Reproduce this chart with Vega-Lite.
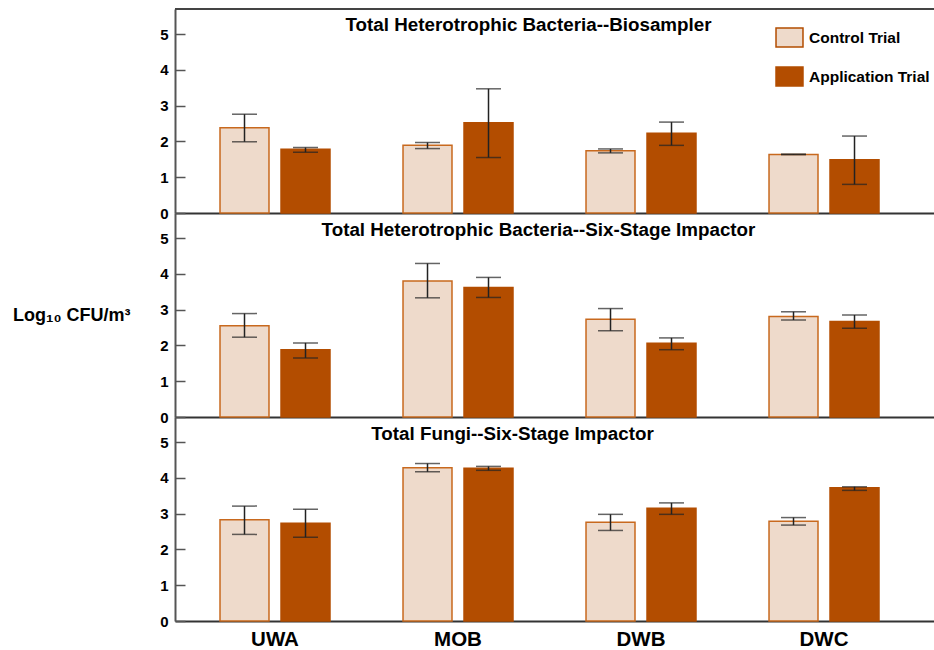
{
  "$schema": "https://vega.github.io/schema/vega-lite/v6.json",
  "padding": {"left": 12, "top": 8, "right": 0, "bottom": 0},
  "spacing": 0,
  "bounds": "flush",
  "config": {
    "font": "Liberation Sans",
    "view": {"stroke": null},
    "legend": {
      "orient": "none", "legendX": 604, "legendY": 18,
      "symbolType": "M-1.42,-1H1.42V1H-1.42Z", "symbolSize": 361,
      "symbolStrokeWidth": 1.5, "labelFontSize": 15.5, "labelFontWeight": "bold",
      "labelColor": "black", "labelOffset": 9, "rowPadding": 14, "padding": 0, "labelLimit": 200
    },
    "title": {"fontSize": 18.8, "fontWeight": "bold", "color": "black", "anchor": "middle", "frame": "group", "baseline": "alphabetic", "offset": -27}
  },
  "data": {"values": [
    {"panel": "P1", "site": "UWA", "trial": "Control Trial", "mean": 2.38, "lo": 1.99, "hi": 2.76},
    {"panel": "P1", "site": "UWA", "trial": "Application Trial", "mean": 1.78, "lo": 1.70, "hi": 1.83},
    {"panel": "P1", "site": "MOB", "trial": "Control Trial", "mean": 1.89, "lo": 1.80, "hi": 1.97},
    {"panel": "P1", "site": "MOB", "trial": "Application Trial", "mean": 2.52, "lo": 1.55, "hi": 3.47},
    {"panel": "P1", "site": "DWB", "trial": "Control Trial", "mean": 1.74, "lo": 1.68, "hi": 1.79},
    {"panel": "P1", "site": "DWB", "trial": "Application Trial", "mean": 2.23, "lo": 1.89, "hi": 2.54},
    {"panel": "P1", "site": "DWC", "trial": "Control Trial", "mean": 1.635, "lo": 1.63, "hi": 1.645},
    {"panel": "P1", "site": "DWC", "trial": "Application Trial", "mean": 1.49, "lo": 0.80, "hi": 2.15},
    {"panel": "P2", "site": "UWA", "trial": "Control Trial", "mean": 2.55, "lo": 2.23, "hi": 2.89},
    {"panel": "P2", "site": "UWA", "trial": "Application Trial", "mean": 1.88, "lo": 1.65, "hi": 2.07},
    {"panel": "P2", "site": "MOB", "trial": "Control Trial", "mean": 3.80, "lo": 3.33, "hi": 4.29},
    {"panel": "P2", "site": "MOB", "trial": "Application Trial", "mean": 3.62, "lo": 3.34, "hi": 3.90},
    {"panel": "P2", "site": "DWB", "trial": "Control Trial", "mean": 2.73, "lo": 2.41, "hi": 3.03},
    {"panel": "P2", "site": "DWB", "trial": "Application Trial", "mean": 2.06, "lo": 1.88, "hi": 2.21},
    {"panel": "P2", "site": "DWC", "trial": "Control Trial", "mean": 2.81, "lo": 2.71, "hi": 2.94},
    {"panel": "P2", "site": "DWC", "trial": "Application Trial", "mean": 2.67, "lo": 2.48, "hi": 2.85},
    {"panel": "P3", "site": "UWA", "trial": "Control Trial", "mean": 2.83, "lo": 2.42, "hi": 3.21},
    {"panel": "P3", "site": "UWA", "trial": "Application Trial", "mean": 2.73, "lo": 2.34, "hi": 3.12},
    {"panel": "P3", "site": "MOB", "trial": "Control Trial", "mean": 4.28, "lo": 4.17, "hi": 4.40},
    {"panel": "P3", "site": "MOB", "trial": "Application Trial", "mean": 4.27, "lo": 4.21, "hi": 4.32},
    {"panel": "P3", "site": "DWB", "trial": "Control Trial", "mean": 2.76, "lo": 2.53, "hi": 2.98},
    {"panel": "P3", "site": "DWB", "trial": "Application Trial", "mean": 3.15, "lo": 2.98, "hi": 3.30},
    {"panel": "P3", "site": "DWC", "trial": "Control Trial", "mean": 2.79, "lo": 2.68, "hi": 2.89},
    {"panel": "P3", "site": "DWC", "trial": "Application Trial", "mean": 3.72, "lo": 3.65, "hi": 3.75}
  ]},
  "vconcat": [
    {
      "width": 759, "height": 204,
      "title": {"text": "Total Heterotrophic Bacteria--Biosampler", "dx": -26},
      "transform": [{"filter": "datum.panel === 'P1'"}],
      "layer": [
        {"mark": {"type": "bar", "strokeWidth": 1.5},
         "encoding": {
           "x": {"field": "site", "type": "nominal", "sort": ["UWA", "MOB", "DWB", "DWC"], "scale": {"paddingInner": 0, "paddingOuter": 0.07375, "align": 0.315}, "axis": {"labels": false, "ticks": false, "title": null, "domainColor": "#333", "domainWidth": 2}},
           "xOffset": {"field": "trial", "type": "nominal", "sort": ["Control Trial", "Application Trial"], "scale": {"paddingInner": 0.197, "paddingOuter": 0.5985}},
           "y": {"field": "mean", "type": "quantitative", "scale": {"domain": [0, 5.7], "nice": false},
                 "axis": {"title": null, "grid": false, "values": [0, 0.5, 1, 1.5, 2, 2.5, 3, 3.5, 4, 4.5, 5], "labelExpr": "datum.value % 1 === 0 ? datum.label : ''", "tickSize": {"condition": {"test": "datum.value % 1 === 0", "value": -10}, "value": -7}, "tickColor": "#555", "tickWidth": 1.5, "domainColor": "#555", "domainWidth": 2, "labelFontSize": 15, "labelFontWeight": "bold", "labelColor": "black", "labelPadding": 17}},
           "fill": {"field": "trial", "type": "nominal", "sort": ["Control Trial", "Application Trial"], "scale": {"range": ["#EEDACB", "#B34D00"]},
                    "legend": {"title": null, "encode": {"symbols": {"update": {"stroke": {"signal": "datum.value === 'Control Trial' ? '#C8691E' : '#B34D00'"}}}}}},
           "stroke": {"condition": {"test": "datum.trial === 'Control Trial'", "value": "#C8691E"}, "value": "#B34D00"}
         }},
        {"mark": {"type": "rule", "color": "#444", "strokeWidth": 2}, "encoding": {"y": {"datum": 5.7, "type": "quantitative"}}},
        {"mark": {"type": "rule", "color": "#222", "strokeWidth": 1.5},
         "encoding": {"x": {"field": "site", "type": "nominal", "sort": ["UWA", "MOB", "DWB", "DWC"]}, "xOffset": {"field": "trial", "type": "nominal", "sort": ["Control Trial", "Application Trial"]}, "y": {"field": "lo", "type": "quantitative"}, "y2": {"field": "hi"}}},
        {"mark": {"type": "tick", "orient": "horizontal", "size": 25, "thickness": 1.5, "color": "#222"},
         "encoding": {"x": {"field": "site", "type": "nominal", "sort": ["UWA", "MOB", "DWB", "DWC"]}, "xOffset": {"field": "trial", "type": "nominal", "sort": ["Control Trial", "Application Trial"]}, "y": {"field": "lo", "type": "quantitative"}}},
        {"mark": {"type": "tick", "orient": "horizontal", "size": 25, "thickness": 1.5, "color": "#222"},
         "encoding": {"x": {"field": "site", "type": "nominal", "sort": ["UWA", "MOB", "DWB", "DWC"]}, "xOffset": {"field": "trial", "type": "nominal", "sort": ["Control Trial", "Application Trial"]}, "y": {"field": "hi", "type": "quantitative"}}}
      ]
    },
    {
      "width": 759, "height": 204,
      "title": {"text": "Total Heterotrophic Bacteria--Six-Stage Impactor", "dx": -16},
      "transform": [{"filter": "datum.panel === 'P2'"}],
      "layer": [
        {"mark": {"type": "bar", "strokeWidth": 1.5},
         "encoding": {
           "x": {"field": "site", "type": "nominal", "sort": ["UWA", "MOB", "DWB", "DWC"], "scale": {"paddingInner": 0, "paddingOuter": 0.07375, "align": 0.315}, "axis": {"labels": false, "ticks": false, "title": null, "domainColor": "#333", "domainWidth": 2}},
           "xOffset": {"field": "trial", "type": "nominal", "sort": ["Control Trial", "Application Trial"], "scale": {"paddingInner": 0.197, "paddingOuter": 0.5985}},
           "y": {"field": "mean", "type": "quantitative", "scale": {"domain": [0, 5.7], "nice": false},
                 "axis": {"title": "Log₁₀ CFU/m³", "titleAngle": 0, "titleAlign": "right", "titleBaseline": "middle", "titleX": -45, "titleY": 102, "titleFontSize": 18, "titleFontWeight": "bold", "titleColor": "black", "grid": false, "values": [0, 0.5, 1, 1.5, 2, 2.5, 3, 3.5, 4, 4.5, 5], "labelExpr": "datum.value % 1 === 0 ? datum.label : ''", "tickSize": {"condition": {"test": "datum.value % 1 === 0", "value": -10}, "value": -7}, "tickColor": "#555", "tickWidth": 1.5, "domainColor": "#555", "domainWidth": 2, "labelFontSize": 15, "labelFontWeight": "bold", "labelColor": "black", "labelPadding": 17}},
           "fill": {"field": "trial", "type": "nominal", "sort": ["Control Trial", "Application Trial"], "scale": {"range": ["#EEDACB", "#B34D00"]},
                    "legend": {"title": null, "encode": {"symbols": {"update": {"stroke": {"signal": "datum.value === 'Control Trial' ? '#C8691E' : '#B34D00'"}}}}}},
           "stroke": {"condition": {"test": "datum.trial === 'Control Trial'", "value": "#C8691E"}, "value": "#B34D00"}
         }},
        {"mark": {"type": "rule", "color": "#222", "strokeWidth": 1.5},
         "encoding": {"x": {"field": "site", "type": "nominal", "sort": ["UWA", "MOB", "DWB", "DWC"]}, "xOffset": {"field": "trial", "type": "nominal", "sort": ["Control Trial", "Application Trial"]}, "y": {"field": "lo", "type": "quantitative"}, "y2": {"field": "hi"}}},
        {"mark": {"type": "tick", "orient": "horizontal", "size": 25, "thickness": 1.5, "color": "#222"},
         "encoding": {"x": {"field": "site", "type": "nominal", "sort": ["UWA", "MOB", "DWB", "DWC"]}, "xOffset": {"field": "trial", "type": "nominal", "sort": ["Control Trial", "Application Trial"]}, "y": {"field": "lo", "type": "quantitative"}}},
        {"mark": {"type": "tick", "orient": "horizontal", "size": 25, "thickness": 1.5, "color": "#222"},
         "encoding": {"x": {"field": "site", "type": "nominal", "sort": ["UWA", "MOB", "DWB", "DWC"]}, "xOffset": {"field": "trial", "type": "nominal", "sort": ["Control Trial", "Application Trial"]}, "y": {"field": "hi", "type": "quantitative"}}}
      ]
    },
    {
      "width": 759, "height": 204,
      "title": {"text": "Total Fungi--Six-Stage Impactor", "dx": -42},
      "transform": [{"filter": "datum.panel === 'P3'"}],
      "layer": [
        {"mark": {"type": "bar", "strokeWidth": 1.5},
         "encoding": {
           "x": {"field": "site", "type": "nominal", "sort": ["UWA", "MOB", "DWB", "DWC"], "scale": {"paddingInner": 0, "paddingOuter": 0.07375, "align": 0.315}, "axis": {"labels": true, "ticks": false, "title": null, "labelAngle": 0, "labelFontSize": 20.5, "labelFontWeight": "bold", "labelColor": "black", "labelPadding": 8, "domainColor": "#333", "domainWidth": 2}},
           "xOffset": {"field": "trial", "type": "nominal", "sort": ["Control Trial", "Application Trial"], "scale": {"paddingInner": 0.197, "paddingOuter": 0.5985}},
           "y": {"field": "mean", "type": "quantitative", "scale": {"domain": [0, 5.7], "nice": false},
                 "axis": {"title": null, "grid": false, "values": [0, 0.5, 1, 1.5, 2, 2.5, 3, 3.5, 4, 4.5, 5], "labelExpr": "datum.value % 1 === 0 ? datum.label : ''", "tickSize": {"condition": {"test": "datum.value % 1 === 0", "value": -10}, "value": -7}, "tickColor": "#555", "tickWidth": 1.5, "domainColor": "#555", "domainWidth": 2, "labelFontSize": 15, "labelFontWeight": "bold", "labelColor": "black", "labelPadding": 17}},
           "fill": {"field": "trial", "type": "nominal", "sort": ["Control Trial", "Application Trial"], "scale": {"range": ["#EEDACB", "#B34D00"]},
                    "legend": {"title": null, "encode": {"symbols": {"update": {"stroke": {"signal": "datum.value === 'Control Trial' ? '#C8691E' : '#B34D00'"}}}}}},
           "stroke": {"condition": {"test": "datum.trial === 'Control Trial'", "value": "#C8691E"}, "value": "#B34D00"}
         }},
        {"mark": {"type": "rule", "color": "#222", "strokeWidth": 1.5},
         "encoding": {"x": {"field": "site", "type": "nominal", "sort": ["UWA", "MOB", "DWB", "DWC"]}, "xOffset": {"field": "trial", "type": "nominal", "sort": ["Control Trial", "Application Trial"]}, "y": {"field": "lo", "type": "quantitative"}, "y2": {"field": "hi"}}},
        {"mark": {"type": "tick", "orient": "horizontal", "size": 25, "thickness": 1.5, "color": "#222"},
         "encoding": {"x": {"field": "site", "type": "nominal", "sort": ["UWA", "MOB", "DWB", "DWC"]}, "xOffset": {"field": "trial", "type": "nominal", "sort": ["Control Trial", "Application Trial"]}, "y": {"field": "lo", "type": "quantitative"}}},
        {"mark": {"type": "tick", "orient": "horizontal", "size": 25, "thickness": 1.5, "color": "#222"},
         "encoding": {"x": {"field": "site", "type": "nominal", "sort": ["UWA", "MOB", "DWB", "DWC"]}, "xOffset": {"field": "trial", "type": "nominal", "sort": ["Control Trial", "Application Trial"]}, "y": {"field": "hi", "type": "quantitative"}}}
      ]
    }
  ]
}
